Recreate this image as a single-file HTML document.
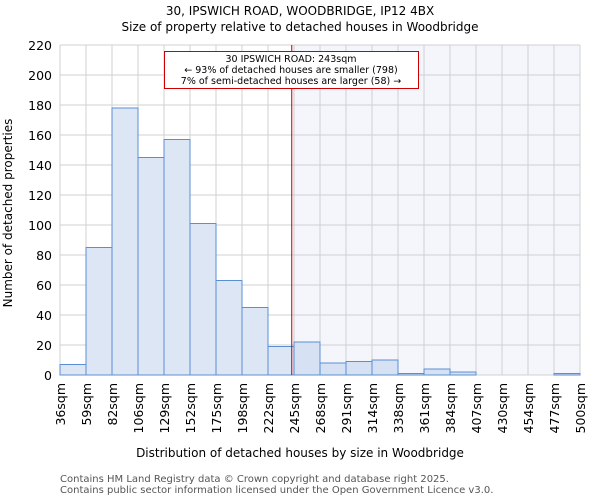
<!DOCTYPE html>
<html><head><meta charset="utf-8"><style>
body{margin:0;background:#fff;font-family:"DejaVu Sans","Liberation Sans",sans-serif}
</style></head><body>
<svg width="600" height="500" xmlns="http://www.w3.org/2000/svg" font-family="DejaVu Sans, Liberation Sans, sans-serif">
<text x="300" y="15" text-anchor="middle" font-size="12">30, IPSWICH ROAD, WOODBRIDGE, IP12 4BX</text>
<text x="300" y="31" text-anchor="middle" font-size="12">Size of property relative to detached houses in Woodbridge</text>
<g id="plot"></g>
<text x="300" y="457" text-anchor="middle" font-size="12">Distribution of detached houses by size in Woodbridge</text>
<text transform="translate(12,213) rotate(-90)" text-anchor="middle" font-size="12">Number of detached properties</text>
<text x="60" y="482" font-size="10" fill="#555">Contains HM Land Registry data © Crown copyright and database right 2025.</text>
<text x="60" y="493" font-size="10" fill="#555">Contains public sector information licensed under the Open Government Licence v3.0.</text>
</svg>
<script>
const binEdges=[36,59,82,106,129,152,175,198,222,245,268,291,314,338,361,384,407,430,454,477,500];
const counts=[7,85,178,145,157,101,63,45,19,22,8,9,10,1,4,2,0,0,0,1];
const yTicks=[0,20,40,60,80,100,120,140,160,180,200,220];
const propertySize=243;
const NS="http://www.w3.org/2000/svg";
const L=60,R=580,T=45,B=375,yMax=220;
const n=counts.length;
const xi=i=>L+i*(R-L)/n;
const xv=v=>{for(let i=0;i<n;i++){if(v<=binEdges[i+1])return xi(i)+(v-binEdges[i])/(binEdges[i+1]-binEdges[i])*(R-L)/n;}return R;};
const y=v=>B-v/yMax*(B-T);
const g=document.getElementById('plot');
function mk(t,a){const e=document.createElementNS(NS,t);for(const k in a)e.setAttribute(k,a[k]);g.appendChild(e);return e;}
const px=xv(propertySize);
let e=mk('rect',{x:px,y:T,width:R-px,height:B-T,fill:'#f4f6fc'});


yTicks.forEach(t=>{let l=mk('line',{x1:L,x2:R,y1:y(t),y2:y(t),stroke:'#d0d0d0','stroke-width':1});


let tx=mk('text',{x:L-8,y:y(t)+5,'text-anchor':'end','font-size':12.5});tx.textContent=t;

});
binEdges.forEach((b,i)=>{let l=mk('line',{x1:xi(i),x2:xi(i),y1:T,y2:B,stroke:'#d0d0d0','stroke-width':1});


let tx=mk('text',{transform:`translate(${xi(i)+5},${B+8}) rotate(-90)`,'text-anchor':'end','font-size':12.5});tx.textContent=b+'sqm';

});
counts.forEach((c,i)=>{let r=mk('rect',{x:xi(i),y:y(c),width:(R-L)/n,height:B-y(c),fill:xi(i)>=px-1?'#d6e1f3':'#dce6f4',stroke:'#5b8fd4','stroke-width':1});

});
e=mk('line',{x1:px,x2:px,y1:T,y2:B,stroke:'#cc0000','stroke-width':1});


e=mk('rect',{x:164.5,y:51.5,width:254,height:37,fill:'#fff',stroke:'#cc0000','stroke-width':1});


["30 IPSWICH ROAD: 243sqm","← 93% of detached houses are smaller (798)","7% of semi-detached houses are larger (58) →"].forEach((s,i)=>{
let t=mk('text',{x:291,y:62+i*11,'text-anchor':'middle','font-size':9.5});t.textContent=s;

});
</script>
</body></html>
